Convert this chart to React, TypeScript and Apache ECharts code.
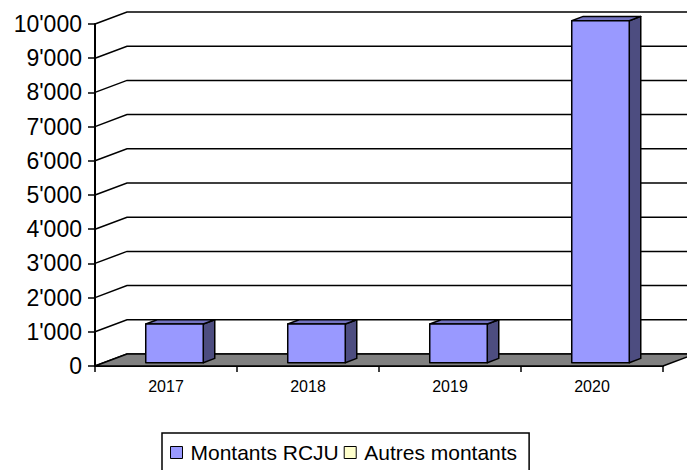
import React, { useEffect, useRef } from "react";
import * as echarts from "echarts";

const categories = ["2017", "2018", "2019", "2020"];
const rcjuValues = [1130, 1130, 1130, 10000];
const autresValues = [0, 0, 0, 0];
const yTickValues = [0, 1000, 2000, 3000, 4000, 5000, 6000, 7000, 8000, 9000, 10000];
const seriesNames = ["Montants RCJU", "Autres montants"];

const DX = 32;
const DY = -12;
const FONT = "'Liberation Sans', Arial, sans-serif";

function fmt(v: number) {
  const s = String(Math.round(v));
  return s.replace(/\B(?=(\d{3})+(?!\d))/g, "'");
}

export default function App() {
  const ref = useRef<HTMLDivElement>(null);
  useEffect(() => {
    if (!ref.current) return;
    const chart = echarts.init(ref.current, undefined, { renderer: "svg" });

    const barRender = (params: any, api: any) => {
      const idx = api.value(0);
      const v = api.value(1);
      if (!v) return null;
      const base = api.coord([idx, 0]);
      const top = api.coord([idx, v]);
      const bw = api.size([1, 0])[0];
      const w = bw * 0.405;
      const ox = 8.5,
        oy = -3.3,
        dx = 11.5,
        dy = -4.3;
      const x0 = base[0] - w / 2 + ox;
      const x1 = x0 + w;
      const yb = base[1] + oy;
      const yt = top[1] + oy;
      const color = api.visual("color");
      const st = { stroke: "#000", lineWidth: 1.5, lineJoin: "round" };
      return {
        type: "group",
        children: [
          {
            type: "polygon",
            shape: { points: [[x1, yb], [x1 + dx, yb + dy], [x1 + dx, yt + dy], [x1, yt]] },
            style: { ...st, fill: "#4D4D80" },
          },
          {
            type: "polygon",
            shape: { points: [[x0, yt], [x0 + dx, yt + dy], [x1 + dx, yt + dy], [x1, yt]] },
            style: { ...st, fill: "#7373C0" },
          },
          {
            type: "rect",
            shape: { x: x0, y: yt, width: w, height: yb - yt },
            style: { ...st, fill: color },
          },
        ],
      };
    };

    const gridRender = (params: any, api: any) => {
      const cs = params.coordSys;
      const v = api.value(1);
      const y = api.coord([0, v])[1];
      const children: any[] = [
        {
          type: "polyline",
          shape: {
            points: [
              [cs.x, y],
              [cs.x + DX, y + DY],
              [cs.x + cs.width + DX + 30, y + DY],
            ],
          },
          style: { stroke: "#000", lineWidth: 1.5, fill: "none" },
        },
      ];
      if (v === 0) {
        children.push({
          type: "polygon",
          shape: {
            points: [
              [cs.x, y],
              [cs.x + cs.width, y],
              [cs.x + cs.width + DX, y + DY],
              [cs.x + DX, y + DY],
            ],
          },
          style: { stroke: "#000", lineWidth: 1.5, fill: "#808080", lineJoin: "round" },
        });
      }
      return { type: "group", children };
    };

    chart.setOption({
      animation: false,
      backgroundColor: "#fff",
      grid: { left: 95, right: 24, top: 24, bottom: 104 },
      legend: {
        data: seriesNames,
        left: 162,
        top: 433,
        orient: "horizontal",
        icon: "rect",
        itemWidth: 12,
        itemHeight: 12,
        itemGap: 5,
        padding: [9, 12, 12, 8],
        borderColor: "#000",
        borderWidth: 1.5,
        borderRadius: 0,
        itemStyle: { borderColor: "#000", borderWidth: 1 },
        textStyle: { fontSize: 21, color: "#000", fontFamily: FONT, padding: [0, 0, 0, 3] },
      },
      xAxis: {
        type: "category",
        data: categories,
        axisLine: { show: true, lineStyle: { color: "#000", width: 2 } },
        axisTick: { show: true, length: 6, lineStyle: { color: "#000", width: 1.5 } },
        axisLabel: { fontSize: 16, color: "#000", fontFamily: FONT, margin: 12 },
        splitLine: { show: false },
      },
      yAxis: {
        type: "value",
        min: 0,
        max: 10000,
        interval: 1000,
        axisLine: { show: true, lineStyle: { color: "#000", width: 2 } },
        axisTick: { show: true, length: 7, lineStyle: { color: "#000", width: 1.5 } },
        axisLabel: {
          fontSize: 23,
          color: "#000",
          fontFamily: FONT,
          margin: 13,
          formatter: (v: number) => fmt(v),
        },
        splitLine: { show: false },
      },
      series: [
        {
          type: "custom",
          name: "walls",
          renderItem: gridRender,
          encode: { x: 0, y: 1 },
          data: yTickValues.map((v) => [0, v]),
          clip: false,
          z: 1,
          silent: true,
        },
        {
          type: "custom",
          name: seriesNames[0],
          renderItem: barRender,
          encode: { x: 0, y: 1 },
          itemStyle: { color: "#9999FF" },
          data: rcjuValues.map((v, i) => [i, v]),
          clip: false,
          z: 3,
        },
        {
          type: "custom",
          name: seriesNames[1],
          renderItem: barRender,
          encode: { x: 0, y: 1 },
          itemStyle: { color: "#FFFFCC" },
          data: autresValues.map((v, i) => [i, v]),
          clip: false,
          z: 3,
        },
      ],
    });
    return () => chart.dispose();
  }, []);
  return (
    <div
      ref={ref}
      style={{ position: "absolute", left: 0, top: 0, width: 687, height: 470 }}
    />
  );
}
